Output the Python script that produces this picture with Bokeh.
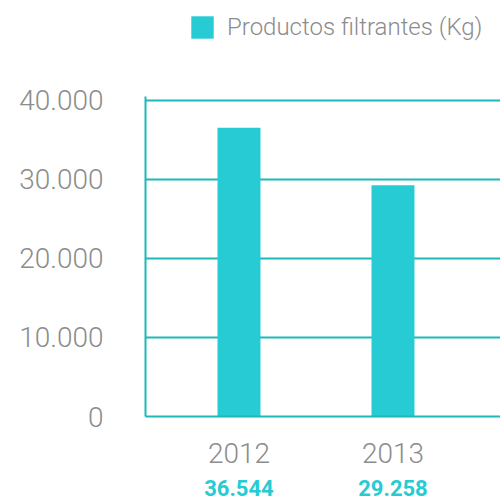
from bokeh.plotting import figure
from bokeh.models import (Range1d, FixedTicker, LinearAxis, ColumnDataSource,
                          Legend, LegendItem)
from bokeh.embed import file_html
from bokeh.resources import INLINE

years = ["2012", "2013"]
values = [36544, 29258]
y_ticks = [0, 10000, 20000, 30000, 40000]
y_tick_labels = ["0", "10.000", "20.000", "30.000", "40.000"]
series_name = "Productos filtrantes (Kg)"

BAR = "#26CBD4"
AXIS = "#1DB8B8"
GRAY = "#8C8C8C"
FONT = "Roboto Light"

xpos = [i + 1 for i in range(len(years))]
value_labels = [f"{v:,}".replace(",", ".") for v in values]

src = ColumnDataSource(dict(x=xpos, top=values))

AXIS_TOP = 40500
# frame spans from the page top to the x axis; the y axis line stops at AXIS_TOP
p = figure(width=500, height=503, output_backend="svg", toolbar_location=None,
           x_range=Range1d(0.393, 2.698), y_range=Range1d(0, AXIS_TOP * 416 / 320),
           min_border_left=145, min_border_right=0, min_border_top=0,
           min_border_bottom=87, outline_line_color=None)

r = p.vbar(x="x", top="top", width=0.279, source=src, color=BAR, line_color=None)

# grid
p.xgrid.grid_line_color = None
p.ygrid.ticker = FixedTicker(ticks=y_ticks)
p.ygrid.grid_line_color = AXIS
p.ygrid.grid_line_width = 2

# y axis
ya = p.yaxis[0]
ya.ticker = FixedTicker(ticks=y_ticks)
ya.bounds = (0, AXIS_TOP)
ya.major_label_overrides = {t: l for t, l in zip(y_ticks, y_tick_labels)}
ya.axis_line_color = AXIS
ya.axis_line_width = 2
ya.major_tick_line_color = None
ya.minor_tick_line_color = None
ya.major_label_text_font = FONT
ya.major_label_text_font_size = "28px"
ya.major_label_text_color = GRAY
ya.major_label_standoff = 36

# x axis with years
xa = p.xaxis[0]
xa.ticker = FixedTicker(ticks=xpos)
xa.major_label_overrides = {x: y for x, y in zip(xpos, years)}
xa.axis_line_color = AXIS
xa.axis_line_width = 2
xa.major_tick_line_color = None
xa.minor_tick_line_color = None
xa.major_label_text_font = FONT
xa.major_label_text_font_size = "28px"
xa.major_label_text_color = GRAY
xa.major_label_standoff = 20

# second x axis with values
xa2 = LinearAxis(ticker=FixedTicker(ticks=xpos),
                 major_label_overrides={x: v for x, v in zip(xpos, value_labels)},
                 axis_line_color=None, major_tick_line_color=None,
                 minor_tick_line_color=None,
                 major_label_text_font="Roboto",
                 major_label_text_font_style="bold",
                 major_label_text_font_size="22px",
                 major_label_text_color=BAR,
                 major_label_standoff=8)
p.add_layout(xa2, "below")

legend = Legend(items=[LegendItem(label=series_name, renderers=[r])],
                location=(43, 375), orientation="horizontal",
                label_text_font=FONT, label_text_font_size="24px",
                label_text_color=GRAY, glyph_width=28, glyph_height=28,
                label_standoff=11, padding=4, margin=0,
                border_line_color=None, background_fill_alpha=0)
p.add_layout(legend, "center")

open("out.html", "w").write(file_html(p, INLINE))
